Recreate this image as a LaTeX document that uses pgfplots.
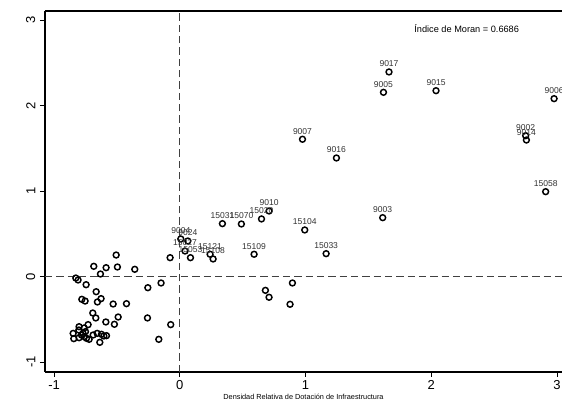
\documentclass[border=0pt]{standalone}
\usepackage{fontspec}
\setmainfont{Liberation Sans}
\usepackage{pgfplots}
\usepackage{pgfplotstable}
\pgfplotsset{compat=1.18}
\definecolor{dashgray}{HTML}{404040}
\definecolor{lblgray}{HTML}{333333}
\pgfplotstableread{
x y label
1.664 2.392 9017
1.620 2.154 9005
2.038 2.173 9015
2.977 2.080 9006
0.976 1.605 9007
1.246 1.386 9016
2.751 1.647 9002
2.757 1.596 9014
2.910 0.992 15058
1.614 0.688 9003
0.994 0.544 15104
1.164 0.267 15033
0.710 0.766 9010
0.650 0.673 15020
0.339 0.618 15031
0.490 0.614 15070
0.008 0.439 9004
0.064 0.415 9024
0.042 0.298 15027
0.085 0.220 15053
0.241 0.260 15121
0.265 0.205 15108
0.591 0.260 15109
}\labeled
\pgfplotstableread{
x y
-0.506 0.251
-0.684 0.119
-0.586 0.103
-0.496 0.111
-0.631 0.029
-0.358 0.084
-0.077 0.220
-0.827 -0.018
-0.809 -0.041
-0.745 -0.096
-0.665 -0.178
-0.254 -0.131
-0.149 -0.076
-0.779 -0.267
-0.753 -0.287
-0.626 -0.259
-0.655 -0.298
-0.530 -0.322
-0.424 -0.318
-0.692 -0.427
-0.668 -0.485
-0.490 -0.474
-0.588 -0.532
-0.257 -0.485
-0.520 -0.559
-0.072 -0.563
-0.729 -0.563
-0.801 -0.587
-0.761 -0.602
-0.167 -0.735
-0.848 -0.665
-0.843 -0.727
-0.803 -0.626
-0.782 -0.684
-0.769 -0.665
-0.761 -0.704
-0.742 -0.723
-0.721 -0.735
-0.689 -0.684
-0.657 -0.665
-0.623 -0.676
-0.604 -0.696
-0.583 -0.692
-0.636 -0.770
-0.801 -0.716
-0.750 -0.645
0.681 -0.162
0.710 -0.243
0.896 -0.076
0.877 -0.325
}\unlabeled
\begin{document}
\begin{tikzpicture}
\begin{axis}[
  scale only axis, width=387.75pt, height=270.75pt,
  xmin=-1.072, xmax=3.04, ymin=-1.117, ymax=3.105,
  axis lines*=left,
  axis line style={line width=0.8pt, -, black},
  xtick={-1,0,1,2,3}, ytick={-1,0,1,2,3},
  tick align=outside, major tick length=3.75pt,
  tick style={black, line width=0.6pt},
  /pgf/number format/assume math mode=true,
  ticklabel style={font=\fontsize{9.75}{11}\selectfont},
  xticklabel style={yshift=1pt},
  yticklabel style={rotate=90, anchor=south},
  xlabel={Densidad Relativa de Dotación de Infraestructura},
  xlabel style={font=\fontsize{5.5}{6}\selectfont, at={(axis description cs:0.5,0)}, anchor=center, yshift=-19pt},
  clip=false,
]
\coordinate (ll) at (rel axis cs:0,0);
\coordinate (ur) at (rel axis cs:1,1);
\draw[line width=0.8pt, black] (rel axis cs:0,1) -- (rel axis cs:1,1);
\draw[dashgray, line width=0.8pt, dash pattern=on 5.5pt off 3pt] (axis cs:0,-1.117) -- (axis cs:0,3.105);
\draw[dashgray, line width=0.8pt, dash pattern=on 5.5pt off 3pt] (axis cs:-1.072,0) -- (axis cs:3.04,0);
\addplot[only marks, mark=o, mark size=2.2pt, line width=1.1pt, black] table[x=x, y=y] {\unlabeled};
\addplot[only marks, mark=o, mark size=2.2pt, line width=1.1pt, black,
  nodes near coords, point meta=explicit symbolic,
  every node near coord/.style={font=\fontsize{6.4}{7}\selectfont, text=lblgray, anchor=south, inner sep=0pt, yshift=3.5pt, line width=0.4pt}]
  table[x=x, y=y, meta=label] {\labeled};
\node[font=\fontsize{6.9}{8}\selectfont, anchor=center] at (axis cs:2.282,2.897) {Índice de Moran = 0.6686};
\end{axis}
\pgfresetboundingbox
\path[use as bounding box] ([xshift=-33.75pt, yshift=-26.25pt]ll) rectangle ([yshift=8.25pt]ur);
\end{tikzpicture}
\end{document}
